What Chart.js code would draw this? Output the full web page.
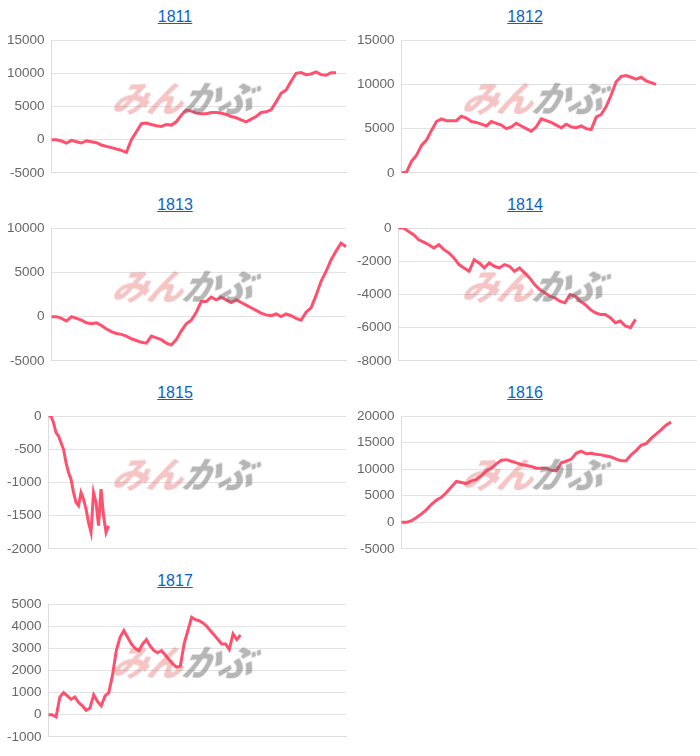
<!DOCTYPE html>
<html><head><meta charset="utf-8">
<script src="https://cdn.jsdelivr.net/npm/chart.js@4"></script>
<style>
body{margin:0;background:#fff;font-family:Arial,"Liberation Sans",sans-serif;}
#grid{display:grid;grid-template-columns:350px 350px;width:700px;}
.panel{position:relative;width:350px;height:188px;}
.ttl{height:25px;text-align:center;line-height:34px;font-size:16px;}
.ttl a{color:#0b63c8;text-decoration:underline;}
.cv{position:relative;width:350px;height:163px;}
.wm{position:absolute;left:114px;top:70px;font:italic 900 36px "Noto Sans CJK JP",sans-serif;letter-spacing:-1px;transform:skewX(-12deg);pointer-events:none;}
.wm .a{color:rgba(225,80,80,0.33);} .wm .b{color:rgba(110,110,110,0.5);}
</style></head><body>
<div id="grid"></div>
<script>
const titles=["1811","1812","1813","1814","1815","1816","1817"];
const s1811=[0,0,-200,-500,-100,-300,-500,-150,-300,-450,-800,-1000,-1200,-1400,-1600,-1900,0,1200,2400,2500,2300,2100,2000,2300,2200,2700,3700,4500,4300,4000,3900,3900,4100,4100,4000,3800,3500,3300,3000,2700,3100,3500,4100,4200,4500,5700,7000,7500,8800,10000,10100,9800,9900,10200,9800,9700,10100,10100];
const s1812=[0,100,1300,2000,3100,3700,4800,5800,6100,5900,5900,5900,6400,6200,5800,5700,5500,5300,5800,5600,5400,5000,5200,5600,5300,5000,4700,5200,6100,5900,5700,5400,5100,5500,5200,5100,5300,5000,4900,6300,6600,7500,8800,10300,10900,11000,10800,10600,10800,10400,10200,10000];
const s1813=[0,0,-200,-500,0,-200,-400,-700,-800,-700,-1000,-1400,-1700,-1900,-2000,-2200,-2500,-2700,-2900,-3000,-2200,-2400,-2600,-3000,-3200,-2600,-1600,-800,-400,500,1700,1700,2200,1900,2200,1900,1600,1900,1600,1300,1000,700,400,200,100,300,0,300,100,-200,-400,500,1000,2400,4000,5100,6400,7400,8300,7900];
const s1814=[0,0,-200,-400,-700,-850,-1000,-1200,-1000,-1300,-1500,-1800,-2200,-2400,-2600,-1900,-2100,-2400,-2100,-2300,-2400,-2200,-2300,-2600,-2400,-2700,-3000,-3400,-3700,-3900,-4100,-4200,-4400,-4500,-4000,-4100,-4400,-4600,-4900,-5100,-5200,-5200,-5400,-5700,-5600,-5900,-6000,-5500];
const s1815=[0,0,-100,-250,-300,-400,-500,-700,-850,-950,-1150,-1300,-1350,-1150,-1250,-1400,-1600,-1750,-1150,-1300,-1650,-1100,-1500,-1750,-1650];
const s1816=[0,0,300,900,1600,2400,3400,4200,4700,5600,6700,7700,7500,7300,7800,8100,8800,9700,10200,11000,11700,11800,11500,11200,10900,10700,10500,10200,10200,10200,9800,9700,11200,11500,11900,13000,13400,12900,13000,12800,12700,12500,12300,11900,11600,11600,12700,13500,14500,14800,15800,16600,17400,18300,18900];
const s1817=[0,0,-100,800,1000,850,700,800,550,400,200,300,900,600,400,850,1000,1800,2900,3500,3800,3500,3200,3000,2900,3200,3400,3100,2900,2800,2900,2700,2500,2300,2150,2200,3200,3800,4400,4300,4250,4150,4000,3800,3600,3400,3200,3200,2950,3650,3400,3600];
const series=[s1811,s1812,s1813,s1814,s1815,s1816,s1817];
const slots=[60,60,60,60,120,60,80];
const yMin=[-5000,0,-5000,-8000,-2000,-5000,-1000];
const yMax=[15000,15000,10000,0,0,20000,5000];
const ySteps=[5000,5000,5000,2000,500,5000,1000];
const grid=document.getElementById('grid');
titles.forEach((t,i)=>{
  const p=document.createElement('div');p.className='panel';
  p.innerHTML='<div class="ttl"><a href="#">'+t+'</a></div><div class="cv"><canvas></canvas></div><div class="wm"><span class="a">みん</span><span class="b">かぶ</span></div>';
  grid.appendChild(p);
  const labels=Array.from({length:slots[i]},(_,k)=>k);
  new Chart(p.querySelector('canvas'),{type:'line',
    data:{labels,datasets:[{data:series[i],borderColor:'rgb(255,80,110)',borderWidth:3,pointRadius:0,tension:0,fill:false}]},
    options:{responsive:true,maintainAspectRatio:false,animation:false,
      layout:{padding:{top:2,right:4,bottom:14}},
      plugins:{legend:{display:false},tooltip:{enabled:false}},
      scales:{x:{ticks:{display:false},grid:{display:false,drawTicks:false},border:{display:true,color:'#ddd'}},
        y:{min:yMin[i],max:yMax[i],ticks:{stepSize:ySteps[i],color:'#666',font:{size:13.5,family:'Arial'},padding:7,callback:v=>String(v)},grid:{color:'#e2e2e2',drawTicks:false},border:{color:'#ddd'}}}}});
});
</script></body></html>
